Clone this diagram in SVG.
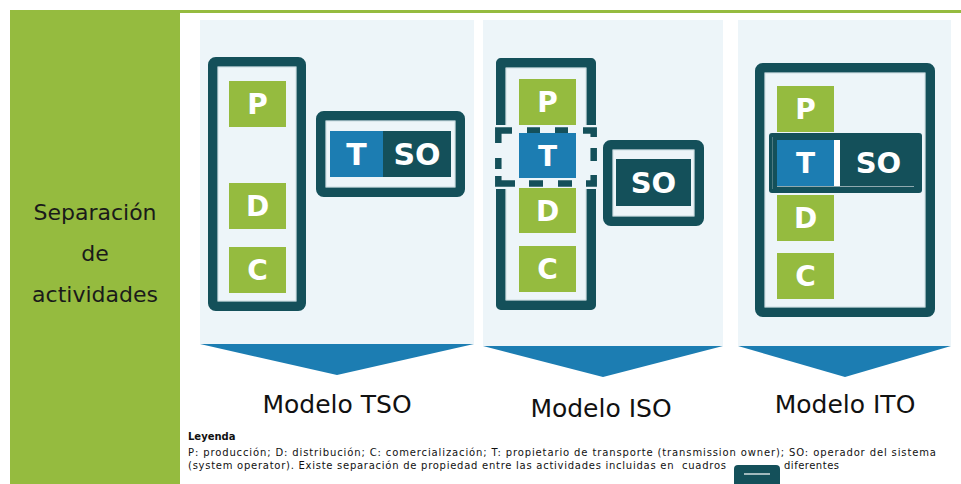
<svg xmlns="http://www.w3.org/2000/svg" width="961" height="484" viewBox="0 0 961 484">
  <style>
    .bg { fill: #ffffff; }
    .band { fill: #95bb3f; }
    .panel { fill: #edf5f9; }
    .arrow { fill: #1c7db2; }
    .frame { fill: none; stroke: #14505a; stroke-width: 9.5; stroke-linejoin: round; }
    .rim { fill: none; stroke: #a9c3c9; stroke-width: 0.8; opacity: 0.6; }
    .dash { fill: none; stroke: #14505a; stroke-width: 6.5; stroke-linecap: butt; }
    .g { fill: #95bb3f; }
    .b { fill: #1c7db2; }
    .d { fill: #14505a; }
    .lt { fill: #ffffff; font-family: "DejaVu Sans", Verdana, sans-serif; font-weight: bold; font-size: 28px; text-anchor: middle; }
    .side { fill: #1a1a1a; font-family: "DejaVu Sans", Verdana, sans-serif; font-size: 22px; text-anchor: middle; }
    .model { fill: #111111; font-family: "DejaVu Sans", Verdana, sans-serif; font-size: 25px; text-anchor: middle; }
    .leg { fill: #111111; font-family: "DejaVu Sans", Verdana, sans-serif; font-size: 10px; }
  </style>

  <rect class="bg" x="0" y="0" width="961" height="484"/>

  <!-- left title band and top rule -->
  <g id="title">
    <rect class="band" x="10" y="10" width="170" height="474"/>
    <rect class="band" x="180" y="10" width="781" height="3"/>
    <text class="side" x="95" y="220">Separación</text>
    <text class="side" x="95" y="261">de</text>
    <text class="side" x="95" y="302">actividades</text>
  </g>

  <!-- TSO model -->
  <g id="modelo-tso">
    <rect class="panel" x="200" y="20" width="274" height="324"/>
    <polygon class="arrow" points="200,344 474,344 337,375"/>
    <rect class="frame" x="212.75" y="61.75" width="88.5" height="244.5" rx="3"/>
    <rect class="rim" x="218" y="67" width="78" height="234"/>
    <rect class="g" x="229" y="81" width="57" height="46"/>
    <text class="lt" x="257.5" y="114">P</text>
    <rect class="g" x="229" y="183" width="57" height="46"/>
    <text class="lt" x="257.5" y="216">D</text>
    <rect class="g" x="229" y="247" width="57" height="46"/>
    <text class="lt" x="257.5" y="280">C</text>
    <rect class="frame" x="320.75" y="115.75" width="139.5" height="76.5" rx="3"/>
    <rect class="rim" x="326" y="121" width="129" height="66"/>
    <rect class="b" x="330" y="131" width="53" height="46"/>
    <rect class="d" x="383" y="131" width="68" height="46"/>
    <text class="lt" x="356.5" y="165" style="font-size:30px">T</text>
    <text class="lt" x="417" y="165" style="font-size:30px">SO</text>
    <text class="model" x="337" y="413">Modelo TSO</text>
  </g>

  <!-- ISO model -->
  <g id="modelo-iso">
    <rect class="panel" x="483" y="20" width="240" height="326"/>
    <polygon class="arrow" points="483,346 723,346 603,377"/>
    <path class="frame" d="M500.75 125 V62.75 H591.25 V125"/>
    <path class="frame" d="M500.75 189 V305.25 H591.25 V189"/>
    <path class="rim" d="M506 125 V68 H586 V125 M506 189 V300 H586 V189"/>
    <path class="dash" d="M498.3 143 V130.5 H512 M527 130.5 H540 M555 130.5 H568 M583 130.5 H593.7 V137 M593.7 148 V161 M593.7 175 V183.5 H586 M572 183.5 H558 M543 183.5 H529 M515 183.5 H498.3 V176 M498.3 158 V169"/>
    <rect class="g" x="519" y="79" width="57" height="46"/>
    <text class="lt" x="547.5" y="112">P</text>
    <rect class="b" x="519" y="133" width="57" height="45"/>
    <text class="lt" x="547.5" y="165.5">T</text>
    <rect class="g" x="519" y="188" width="57" height="45"/>
    <text class="lt" x="547.5" y="220.5">D</text>
    <rect class="g" x="519" y="246" width="57" height="46"/>
    <text class="lt" x="547.5" y="279">C</text>
    <rect class="frame" x="607.75" y="144.75" width="91.5" height="76.5" rx="3"/>
    <rect class="rim" x="613" y="150" width="81" height="66"/>
    <rect class="d" x="616" y="159" width="75" height="47"/>
    <text class="lt" x="653.5" y="193" style="font-size:29px">SO</text>
    <text class="model" x="601" y="417">Modelo ISO</text>
  </g>

  <!-- ITO model -->
  <g id="modelo-ito">
    <rect class="panel" x="738" y="20" width="213" height="326"/>
    <polygon class="arrow" points="738,346 951,346 845,377"/>
    <rect class="frame" x="759.75" y="67.75" width="170.5" height="244.5" rx="3"/>
    <rect class="rim" x="765" y="73" width="160" height="234"/>
    <rect class="g" x="777" y="86" width="57" height="46"/>
    <text class="lt" x="805.5" y="119">P</text>
    <rect class="g" x="777" y="195" width="57" height="46"/>
    <text class="lt" x="805.5" y="228">D</text>
    <rect class="g" x="777" y="253" width="57" height="46"/>
    <text class="lt" x="805.5" y="286">C</text>
    <rect class="d" x="769" y="133" width="153" height="60" rx="3"/>
    <rect class="b" x="777" y="140" width="57" height="46"/>
    <rect x="834" y="140" width="6" height="46" fill="#ffffff"/>
    <line x1="777" y1="186.5" x2="914" y2="186.5" stroke="#8fa9af" stroke-width="1"/>
    <line x1="772.5" y1="137" x2="772.5" y2="189" stroke="#8fa9af" stroke-width="0.8" opacity="0.6"/>
    <text class="lt" x="805.5" y="173">T</text>
    <text class="lt" x="878.5" y="173" style="font-size:29px">SO</text>
    <text class="model" x="845" y="413">Modelo ITO</text>
  </g>

  <!-- legend -->
  <g id="leyenda">
    <text class="leg" x="188" y="440" font-weight="bold">Leyenda</text>
    <text class="leg" x="188" y="456" textLength="748" lengthAdjust="spacing">P: producción; D: distribución; C: comercialización; T: propietario de transporte (transmission owner); SO: operador del sistema</text>
    <text class="leg" x="188" y="469" textLength="538" lengthAdjust="spacing" xml:space="preserve">(system operator). Existe separación de propiedad entre las actividades incluidas en  cuadros</text>
    <rect class="d" x="734" y="465" width="46" height="30" rx="4"/>
    <line x1="744" y1="474" x2="770" y2="474" stroke="#ffffff" stroke-width="1.2"/>
    <text class="leg" x="784" y="469" textLength="55" lengthAdjust="spacing">diferentes</text>
  </g>
</svg>
